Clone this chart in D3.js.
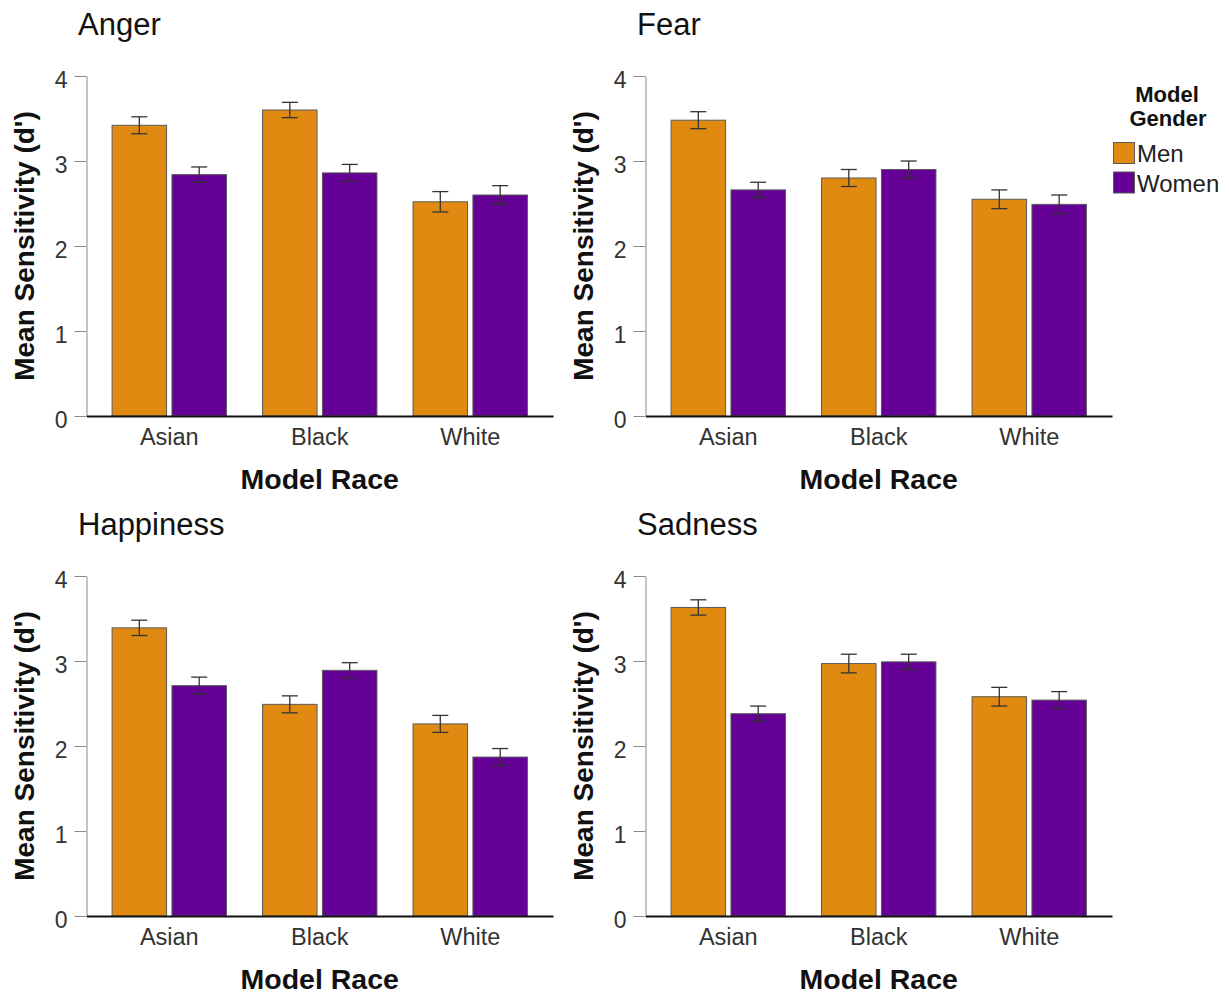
<!DOCTYPE html>
<html>
<head>
<meta charset="utf-8">
<script src="https://cdn.jsdelivr.net/npm/d3@7"></script>
<style>
  body { margin: 0; background: #fff; }
  text { font-family: "Liberation Sans", Arial, sans-serif; }
</style>
</head>
<body>
<div id="chart"></div>
<script>

// ----------------------- DATA

var emotions = ["Anger", "Fear", "Happiness", "Sadness"];
var races = ["Asian", "Black", "White"];
var genders = ["Men", "Women"];
var yTicks = [0, 1, 2, 3, 4];

// means per race (Asian, Black, White) and error bar half-widths
var angerMen = [3.42, 3.60, 2.52];
var angerWomen = [2.84, 2.86, 2.60];
var angerMenErr = [0.10, 0.09, 0.12];
var angerWomenErr = [0.09, 0.10, 0.11];

var fearMen = [3.48, 2.80, 2.55];
var fearWomen = [2.66, 2.90, 2.49];
var fearMenErr = [0.10, 0.10, 0.11];
var fearWomenErr = [0.09, 0.10, 0.11];

var happinessMen = [3.39, 2.49, 2.26];
var happinessWomen = [2.71, 2.89, 1.87];
var happinessMenErr = [0.09, 0.10, 0.10];
var happinessWomenErr = [0.10, 0.09, 0.10];

var sadnessMen = [3.63, 2.97, 2.58];
var sadnessWomen = [2.38, 2.99, 2.54];
var sadnessMenErr = [0.09, 0.11, 0.11];
var sadnessWomenErr = [0.09, 0.09, 0.10];

var colors = { Men: "#e08a12", Women: "#650096" };

var panelData = {
    Anger: [angerMen, angerWomen, angerMenErr, angerWomenErr],
    Fear: [fearMen, fearWomen, fearMenErr, fearWomenErr],
    Happiness: [happinessMen, happinessWomen, happinessMenErr, happinessWomenErr],
    Sadness: [sadnessMen, sadnessWomen, sadnessMenErr, sadnessWomenErr]
};

// ----------------------- LAYOUT

var W = 1229, H = 994;
var offsets = [[0, 0], [559, 0], [0, 500], [559, 500]];

var svg = d3.select("#chart").append("svg")
    .attr("width", W)
    .attr("height", H);

// scales shared by every panel (panel coords)
var x = d3.scaleBand().domain(races).range([86.5, 553]).paddingInner(0.24).paddingOuter(0.17);
var xg = d3.scaleBand().domain(genders).range([0, x.bandwidth()]).paddingInner(0.09);
var y = d3.scaleLinear().domain([0, 4]).range([416, 76]);

emotions.forEach(function (emo, i) {

    var g = svg.append("g")
        .attr("transform", "translate(" + offsets[i][0] + "," + offsets[i][1] + ")");

    var arr = panelData[emo];
    var rows = [];
    races.forEach(function (r, k) {
        rows.push({ race: r, gender: "Men", value: arr[0][k], err: arr[2][k] });
        rows.push({ race: r, gender: "Women", value: arr[1][k], err: arr[3][k] });
    });

    // title
    g.append("text")
        .attr("x", 78)
        .attr("y", 35)
        .style("font-size", "31px")
        .style("fill", "#111")
        .text(emo);

    // y axis
    var yAxis = g.append("g")
        .attr("transform", "translate(86.5,0)")
        .call(d3.axisLeft(y).tickValues(yTicks).tickFormat(d3.format("d"))
            .tickSize(12).tickSizeOuter(0).tickPadding(7));
    yAxis.select(".domain").attr("stroke", "#8a8a8a");
    yAxis.selectAll(".tick line").attr("stroke", "#8a8a8a");
    yAxis.selectAll(".tick text")
        .attr("dy", "0.5em")
        .style("font-size", "23px")
        .style("fill", "#333");

    // bars
    g.selectAll("rect.bar")
        .data(rows)
        .enter().append("rect")
        .attr("class", "bar")
        .attr("x", function (d) { return x(d.race) + xg(d.gender); })
        .attr("width", xg.bandwidth())
        .attr("y", function (d) { return y(d.value); })
        .attr("height", function (d) { return y(0) - y(d.value); })
        .attr("fill", function (d) { return colors[d.gender]; })
        .attr("stroke", "#5a5a5a")
        .attr("stroke-width", 1);

    // error bars
    var eb = g.selectAll("g.err")
        .data(rows)
        .enter().append("g")
        .attr("class", "err")
        .attr("transform", function (d) {
            return "translate(" + (x(d.race) + xg(d.gender) + xg.bandwidth() / 2) + ",0)";
        });
    eb.append("line")
        .attr("y1", function (d) { return y(d.value + d.err); })
        .attr("y2", function (d) { return y(d.value - d.err); });
    eb.append("line")
        .attr("x1", -8).attr("x2", 8)
        .attr("y1", function (d) { return y(d.value + d.err); })
        .attr("y2", function (d) { return y(d.value + d.err); });
    eb.append("line")
        .attr("x1", -8).attr("x2", 8)
        .attr("y1", function (d) { return y(d.value - d.err); })
        .attr("y2", function (d) { return y(d.value - d.err); });
    eb.selectAll("line")
        .attr("stroke", "#333")
        .attr("stroke-width", 1.3);

    // x axis
    var xAxis = g.append("g")
        .attr("transform", "translate(0," + y(0) + ")")
        .call(d3.axisBottom(x).tickSize(0).tickSizeOuter(0));
    xAxis.select(".domain").attr("stroke", "#111").attr("stroke-width", 2);
    xAxis.selectAll(".tick text")
        .attr("y", 29)
        .attr("dy", 0)
        .style("font-size", "23.5px")
        .style("fill", "#333");

    // axis titles
    g.append("text")
        .attr("transform", "translate(34," + ((y(0) + y(4)) / 2) + ") rotate(-90)")
        .attr("text-anchor", "middle")
        .style("font-size", "28px")
        .style("font-weight", "bold")
        .style("fill", "#111")
        .text("Mean Sensitivity (d')");

    g.append("text")
        .attr("x", (x.range()[0] + x.range()[1]) / 2)
        .attr("y", 489)
        .attr("text-anchor", "middle")
        .style("font-size", "28.5px")
        .style("font-weight", "bold")
        .style("fill", "#111")
        .text("Model Race");
});

// ----------------------- LEGEND

var legend = svg.append("g").attr("transform", "translate(1113,0)");

legend.append("text")
    .attr("x", 54).attr("y", 102)
    .attr("text-anchor", "middle")
    .style("font-size", "22px").style("font-weight", "bold").style("fill", "#111")
    .text("Model");
legend.append("text")
    .attr("x", 55).attr("y", 126)
    .attr("text-anchor", "middle")
    .style("font-size", "22px").style("font-weight", "bold").style("fill", "#111")
    .text("Gender");

genders.forEach(function (gname, i) {
    legend.append("rect")
        .attr("x", 0.5).attr("y", 142.5 + i * 29.5)
        .attr("width", 21).attr("height", 21)
        .attr("fill", colors[gname])
        .attr("stroke", "#5a5a5a");
    legend.append("text")
        .attr("x", 24).attr("y", 162 + i * 30)
        .style("font-size", "24px").style("fill", "#222")
        .text(gname);
});

</script>
</body>
</html>
